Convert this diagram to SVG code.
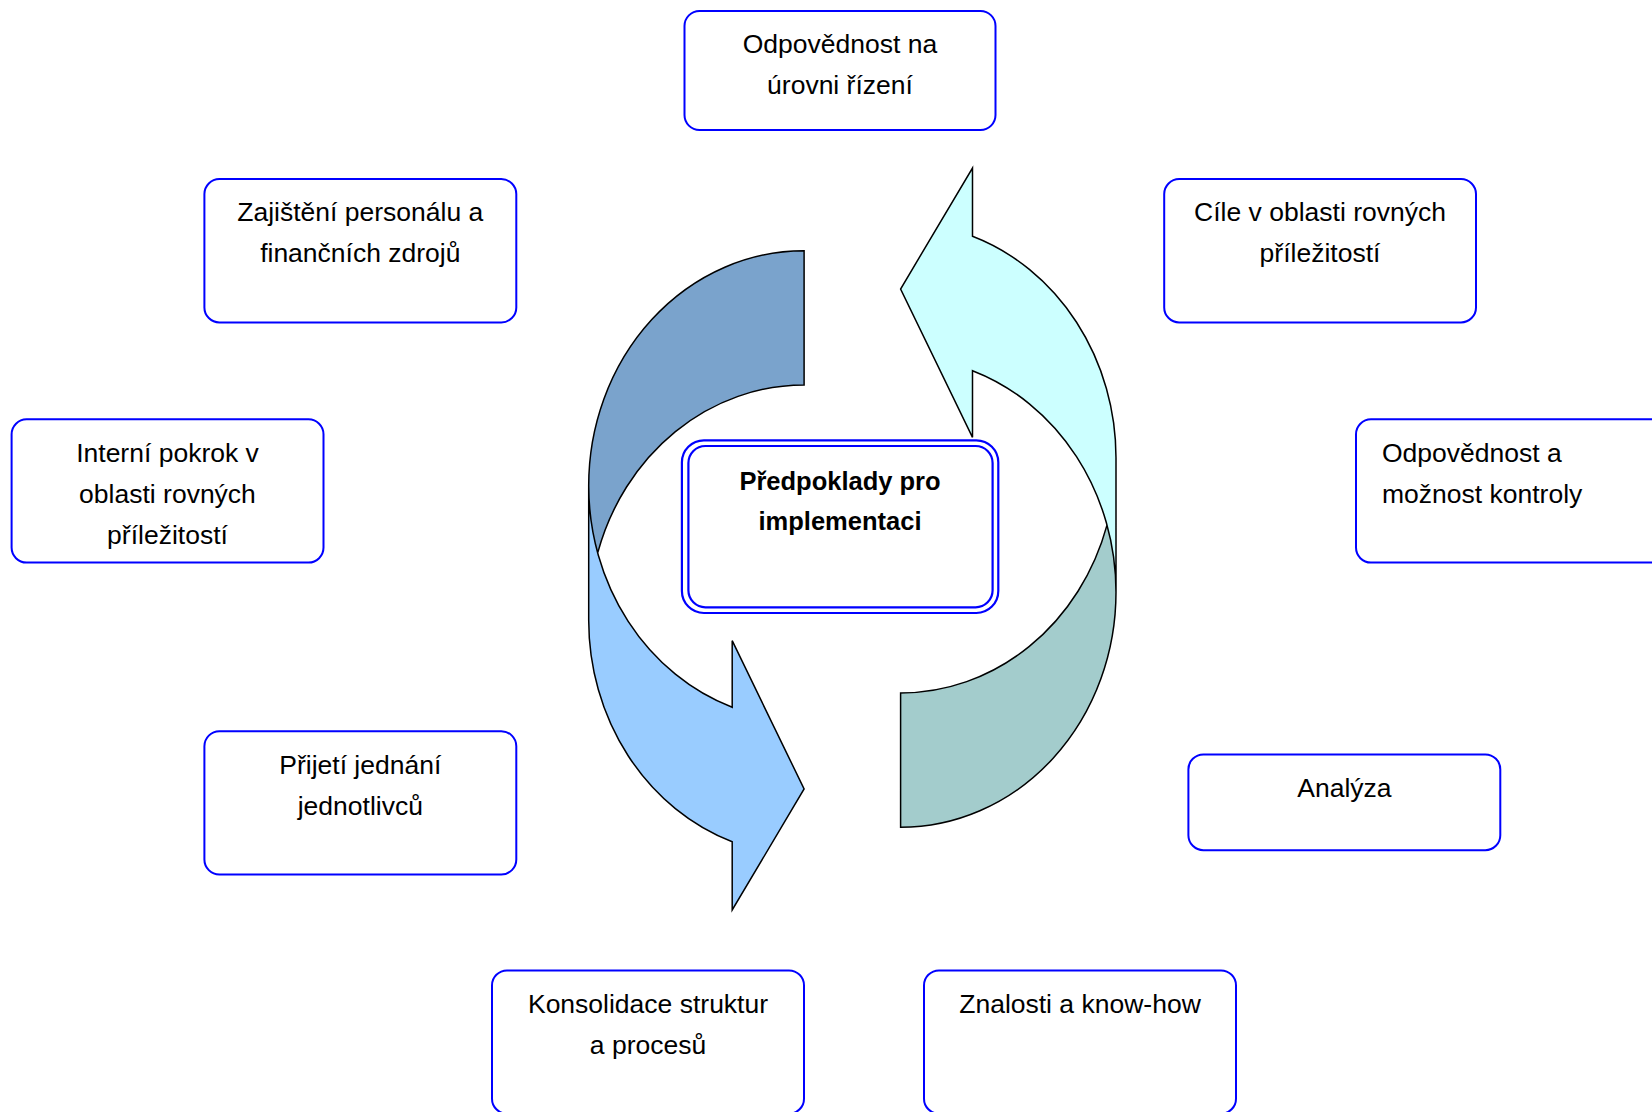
<svg xmlns="http://www.w3.org/2000/svg" width="1652" height="1112" viewBox="0 0 1652 1112">
<style>
  .box { fill: #FFFFFF; stroke: #0000FF; stroke-width: 2; }
  .t { font-family: "Liberation Sans", Arial, sans-serif; font-size: 26.5px; fill: #000000; text-anchor: middle; }
  .tl { text-anchor: start; }
  .tb { font-family: "Liberation Sans", Arial, sans-serif; font-size: 25.5px; font-weight: bold; fill: #000000; text-anchor: middle; }
  .arrowline { fill: none; stroke: #000000; stroke-width: 1.5; stroke-linejoin: miter; }
</style>
<defs>
  <path id="arrowBack" d="M 804.1 250.7 A 215.4 235 0 0 0 588.7 485.7 L 588.7 620 A 215.4 235 0 0 1 804.1 385 Z"/>
  <path id="arrowFront" d="M 588.7 485.7 A 215.4 235 0 0 0 732.2 707.3 L 732.2 640.7 L 804.1 789 L 732.2 910 L 732.2 841.7 A 215.4 235 0 0 1 588.7 620 Z"/>
  <path id="arrowOutline" d="M 588.7 485.7 A 215.4 235 0 0 0 732.2 707.3 L 732.2 640.7 L 804.1 789 L 732.2 910 L 732.2 841.7 A 215.4 235 0 0 1 588.7 620 L 588.7 485.7 A 215.4 235 0 0 1 804.1 250.7 L 804.1 385 A 215.4 235 0 0 0 597.7 552.85"/>
</defs>
<rect x="0" y="0" width="1652" height="1112" fill="#FFFFFF"/>

<g id="connectors">
  <g id="arrow-left">
    <use href="#arrowBack" fill="#7AA3CC"/>
    <use href="#arrowFront" fill="#99CCFF"/>
    <use href="#arrowOutline" class="arrowline"/>
  </g>
  <g id="arrow-right" transform="rotate(180 852.35 539)">
    <use href="#arrowBack" fill="#A3CCCC"/>
    <use href="#arrowFront" fill="#CCFFFF"/>
    <use href="#arrowOutline" class="arrowline"/>
  </g>
</g>

<g id="center">
  <rect x="681.9" y="440.3" width="316.4" height="172.7" rx="22" ry="22" fill="#FFFFFF" stroke="#0000FF" stroke-width="2.2"/>
  <rect x="688.4" y="446" width="304.2" height="161.3" rx="17" ry="17" fill="none" stroke="#0000FF" stroke-width="2.2"/>
  <text class="tb" x="840" y="490">Předpoklady pro</text>
  <text class="tb" x="840" y="530">implementaci</text>
</g>

<g id="node-odpovednost-rizeni">
  <rect class="box" x="684.5" y="11" width="311" height="119" rx="15" ry="15"/>
  <text class="t" x="840" y="52.7">Odpovědnost na</text>
  <text class="t" x="840" y="94">úrovni řízení</text>
</g>

<g id="node-zajisteni">
  <rect class="box" x="204.4" y="179.1" width="311.9" height="143.3" rx="15" ry="15"/>
  <text class="t" x="360.3" y="221">Zajištění personálu a</text>
  <text class="t" x="360.3" y="262">finančních zdrojů</text>
</g>

<g id="node-cile">
  <rect class="box" x="1164.2" y="179.1" width="311.8" height="143.3" rx="15" ry="15"/>
  <text class="t" x="1320" y="221">Cíle v oblasti rovných</text>
  <text class="t" x="1320" y="262">příležitostí</text>
</g>

<g id="node-interni">
  <rect class="box" x="11.6" y="419.3" width="311.9" height="143.3" rx="15" ry="15"/>
  <text class="t" x="167.5" y="461.5">Interní pokrok v</text>
  <text class="t" x="167.5" y="502.5">oblasti rovných</text>
  <text class="t" x="167.5" y="543.5">příležitostí</text>
</g>

<g id="node-odpovednost-kontrola">
  <rect class="box" x="1356" y="419.3" width="311.9" height="143.3" rx="15" ry="15"/>
  <text class="t tl" x="1382" y="461.5">Odpovědnost a</text>
  <text class="t tl" x="1382" y="502.5">možnost kontroly</text>
</g>

<g id="node-analyza">
  <rect class="box" x="1188.4" y="754.4" width="311.9" height="95.8" rx="15" ry="15"/>
  <text class="t" x="1344.4" y="796.5">Analýza</text>
</g>

<g id="node-prijeti">
  <rect class="box" x="204.4" y="731.2" width="311.9" height="143.3" rx="15" ry="15"/>
  <text class="t" x="360.3" y="773.5">Přijetí jednání</text>
  <text class="t" x="360.3" y="814.5">jednotlivců</text>
</g>

<g id="node-konsolidace">
  <rect class="box" x="492" y="970.4" width="312" height="143.3" rx="15" ry="15"/>
  <text class="t" x="648" y="1012.5">Konsolidace struktur</text>
  <text class="t" x="648" y="1053.5">a procesů</text>
</g>

<g id="node-znalosti">
  <rect class="box" x="924" y="970.4" width="312" height="143.3" rx="15" ry="15"/>
  <text class="t" x="1080" y="1012.5">Znalosti a know-how</text>
</g>
</svg>
